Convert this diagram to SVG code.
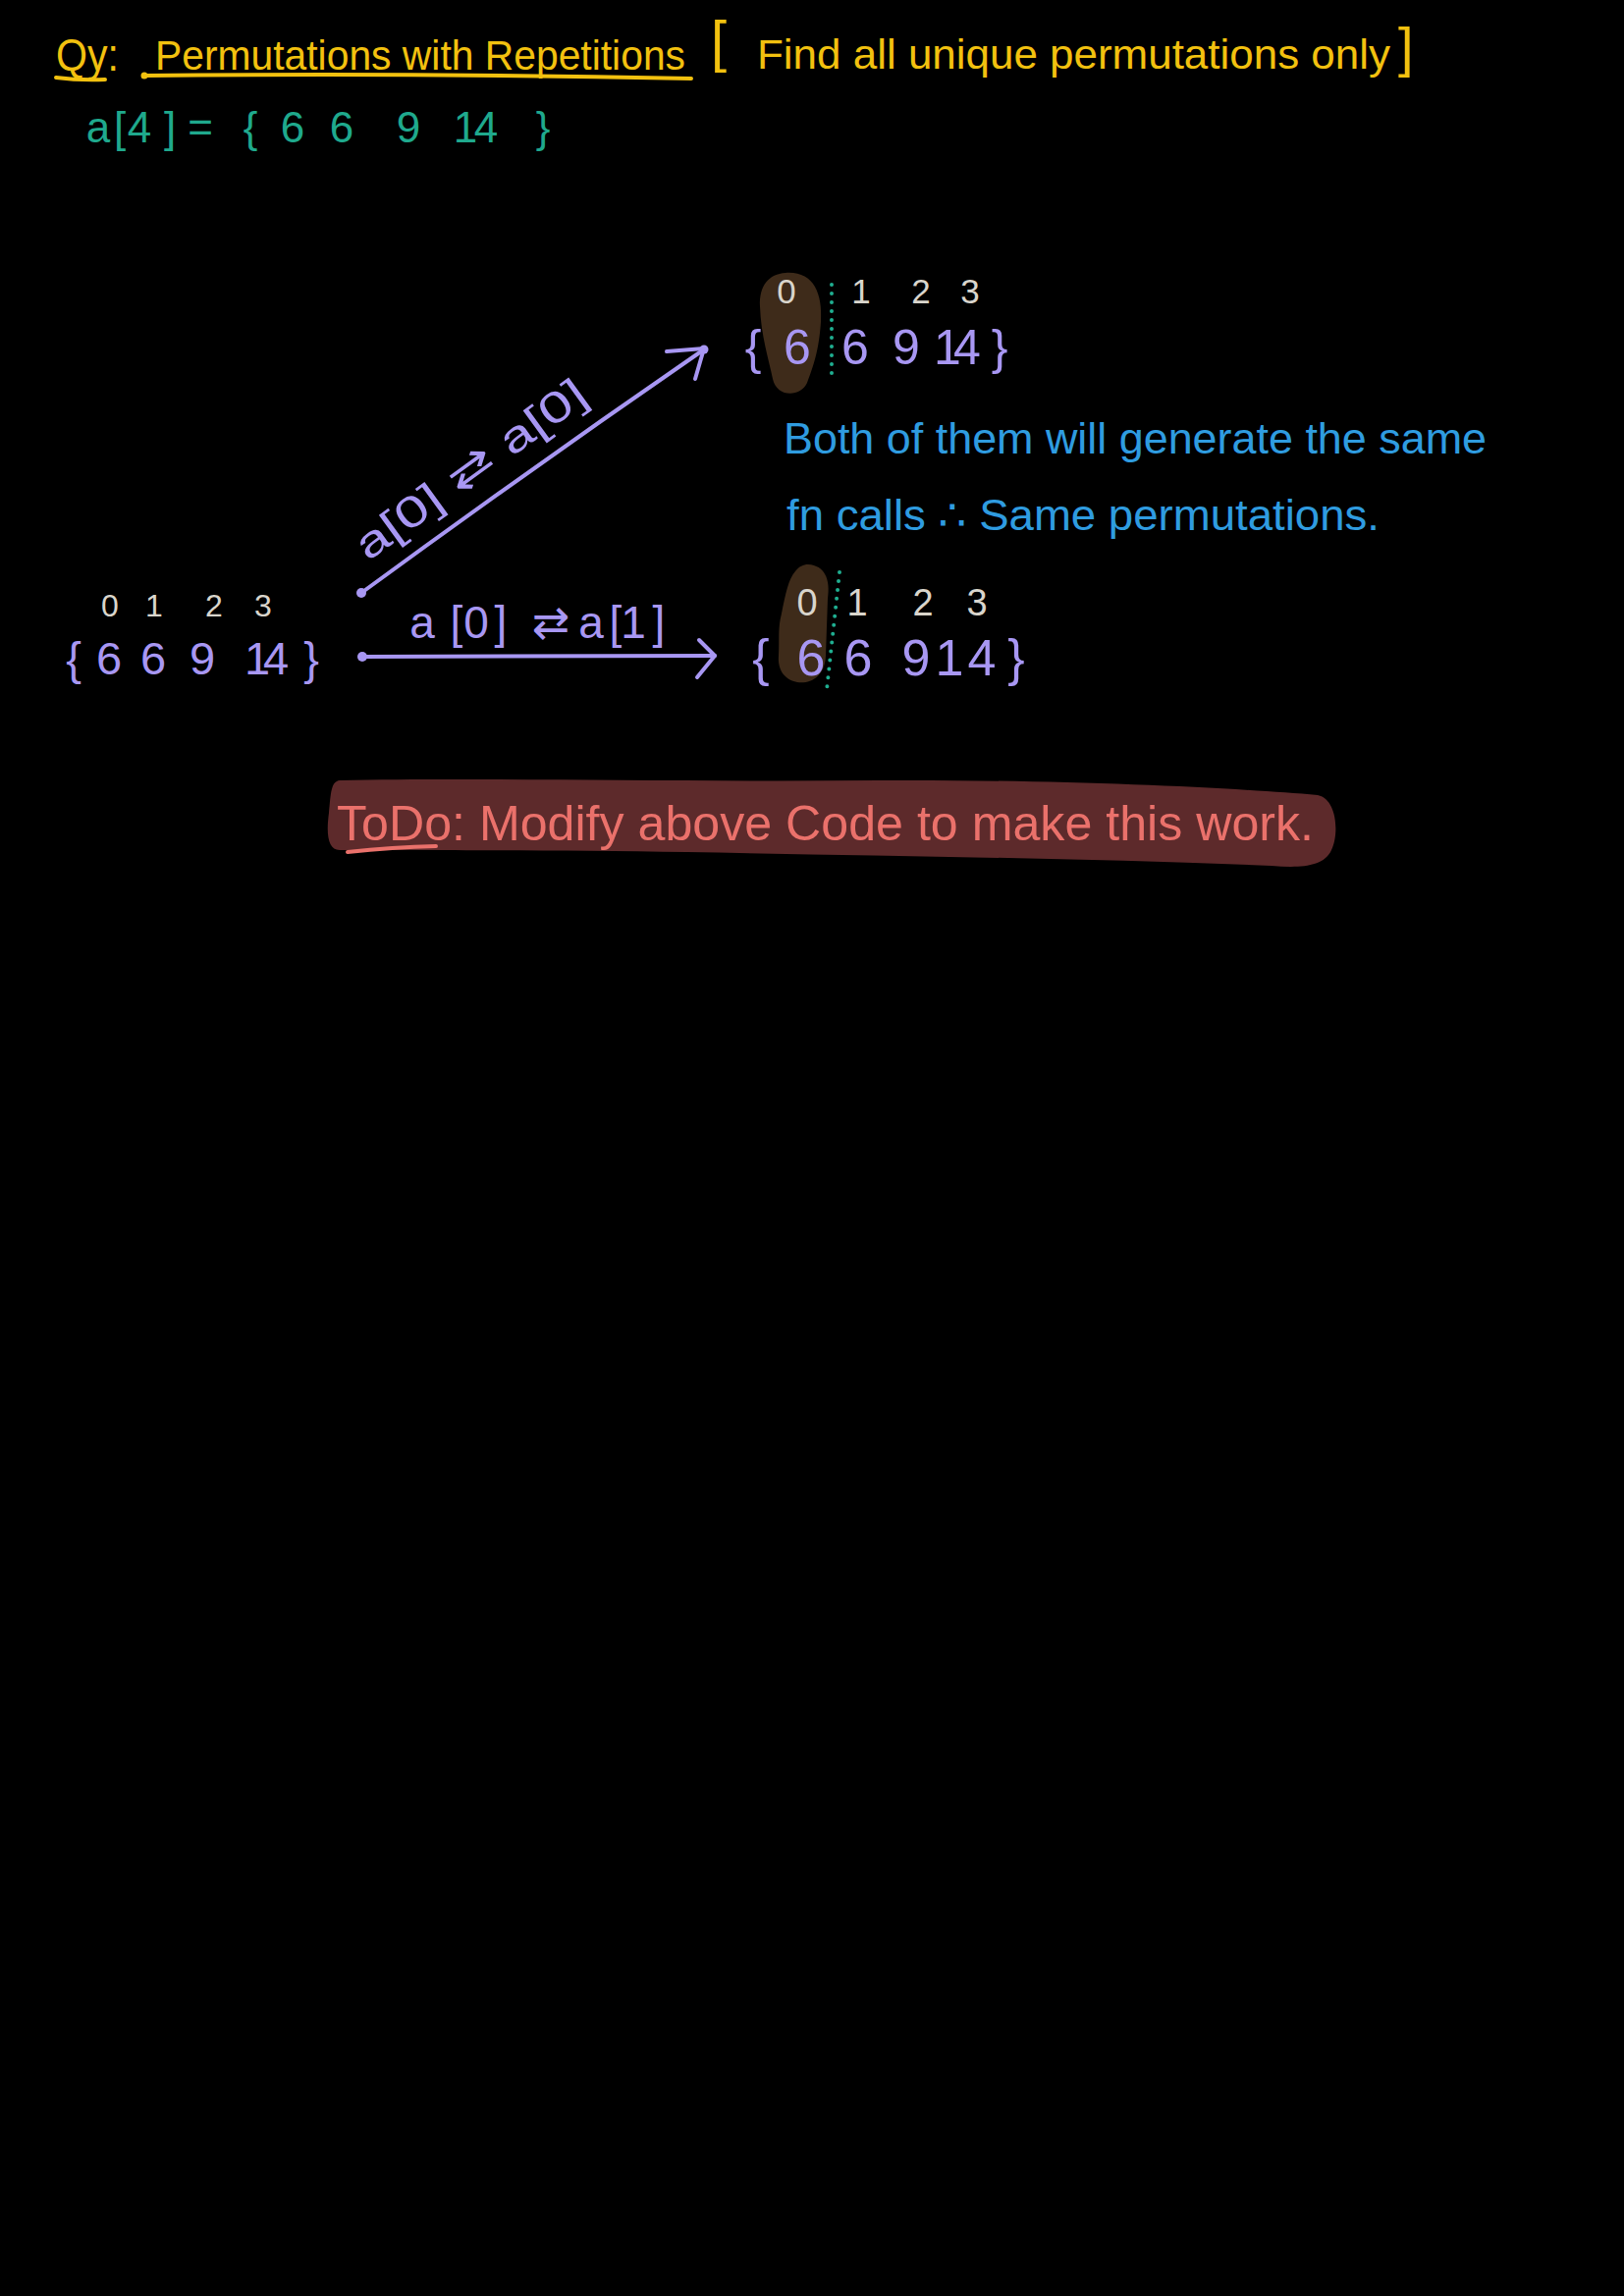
<svg xmlns="http://www.w3.org/2000/svg" width="1654" height="2339" viewBox="0 0 1654 2339">
<style>
.hw{font-family:"Liberation Sans","DejaVu Sans",sans-serif;}
.c{text-anchor:middle;}
.yel{fill:#f2c10f;}
.teal{fill:#1fa98d;}
.lav{fill:#a897f3;}
.gray{fill:#d9d5cc;}
.blue{fill:#2f9ce0;}
.red{fill:#ea716b;}
.ln{stroke:#a897f3;stroke-width:4;fill:none;stroke-linecap:round;stroke-linejoin:round;}
.uy{stroke:#f2c10f;stroke-width:4;fill:none;stroke-linecap:round;}
.dots{stroke:#1fae90;stroke-width:4;fill:none;stroke-linecap:round;stroke-dasharray:0 9;}
.blob{fill:#3e2b1a;}
</style>
<rect x="0" y="0" width="1654" height="2339" fill="#000"/>

<g id="title">
  <text class="hw yel" x="57" y="72" font-size="46" textLength="64" lengthAdjust="spacingAndGlyphs">Qy:</text>
  <path class="uy" d="M57,79 Q80,82 107,81"/>
  <text class="hw yel" x="158" y="71" font-size="42" textLength="540" lengthAdjust="spacingAndGlyphs">Permutations with Repetitions</text>
  <path class="uy" d="M147,77 Q420,74 704,80"/>
  <circle cx="147" cy="77" r="3.5" fill="#f2c10f"/>
  <text class="hw yel" x="724" y="62" font-size="58">[</text>
  <text class="hw yel" x="771" y="70" font-size="43" textLength="645" lengthAdjust="spacingAndGlyphs">Find all unique permutations only</text>
  <text class="hw yel" x="1424" y="67" font-size="56">]</text>
</g>

<g id="array-def">
  <text class="hw c teal" y="145" font-size="44" x="100 122 142 173 188 204 230 255 276 298 323 348 382 416 445 474 495 520 553">a[4] = { 6 6 9 14 }</text>
</g>

<g id="array-left">
  <text class="hw c gray" y="628" font-size="32" x="112 135 157 188 218 243 268">0 1 2 3</text>
  <text class="hw c lav" y="687" font-size="47" x="75 111 133 156 181 206 234 262 281 317">{6 6 9 14}</text>
</g>

<g id="array-top">
  <path class="blob" d="M800,278 C828,276 838,298 836,328 C834,358 828,374 822,390 C815,405 791,405 787,386 C783,366 775,342 774,312 C773,291 783,279 800,278 Z"/>
  <path class="dots" d="M847,290 L847,388"/>
  <text class="hw c gray" y="309" font-size="35" x="801 839 877 908 938 963 988">0 1 2 3</text>
  <text class="hw c lav" y="371" font-size="50" x="767 812 841 871 897 923 944 965 985 1018">{6 6 9 14}</text>
</g>

<g id="array-bottom">
  <path class="blob" d="M823,575 C840,576 846,590 843,610 L841,668 C840,690 825,697 812,695 C797,692 792,680 793,668 C794,650 792,640 796,625 C800,605 803,590 810,582 C814,577 818,575 823,575 Z"/>
  <path class="dots" d="M855,583 L842,703"/>
  <text class="hw c gray" y="627" font-size="38" x="822 848 873 906 940 968 995">0 1 2 3</text>
  <text class="hw c lav" y="688" font-size="52" x="775 826 850 874 903 933 950 967 1000 1035">{6 6 9 14}</text>
</g>

<g id="note">
  <text class="hw blue" x="798" y="462" font-size="44" textLength="716" lengthAdjust="spacingAndGlyphs">Both of them will generate the same</text>
  <text class="hw blue" x="801" y="540" font-size="44" textLength="604" lengthAdjust="spacingAndGlyphs">fn calls ∴ Same permutations.</text>
</g>

<g id="todo">
  <path fill="#5d2a2b" d="M346,795 C500,792 700,797 895,795 C1074,794 1250,802 1342,810 C1362,814 1364,850 1356,866 C1348,884 1322,884 1295,882 C1100,874 900,872 700,868 C560,866 430,866 346,866 C334,866 332,850 335,828 C337,808 337,796 346,795 Z"/>
  <text class="hw red" x="343" y="856" font-size="50" textLength="995" lengthAdjust="spacingAndGlyphs">ToDo: Modify above Code to make this work.</text>
  <path d="M354,868 Q400,863 444,862" stroke="#ea716b" stroke-width="4" fill="none" stroke-linecap="round"/>
</g>

<g id="connectors">
  <path class="ln" d="M368,604 Q540,478 717,356"/>
  <circle cx="368" cy="604" r="5" fill="#a897f3"/>
  <circle cx="717" cy="356" r="4.5" fill="#a897f3"/>
  <path class="ln" d="M679,358 L717,355 L708,386"/>
  <text class="hw c lav" font-size="44" x="0" y="0" transform="translate(488,490) rotate(-36)" textLength="280" lengthAdjust="spacingAndGlyphs">a[0] ⇄ a[0]</text>

  <path class="ln" d="M369,669 L728,668"/>
  <circle cx="369" cy="669" r="5" fill="#a897f3"/>
  <path class="ln" d="M712,652 L728,668 L710,690"/>
  <text class="hw c lav" y="650" font-size="46" x="430 465 485 510 535 561 585 602 627 645 671">a[0] ⇄ a[1]</text>
</g>
</svg>
